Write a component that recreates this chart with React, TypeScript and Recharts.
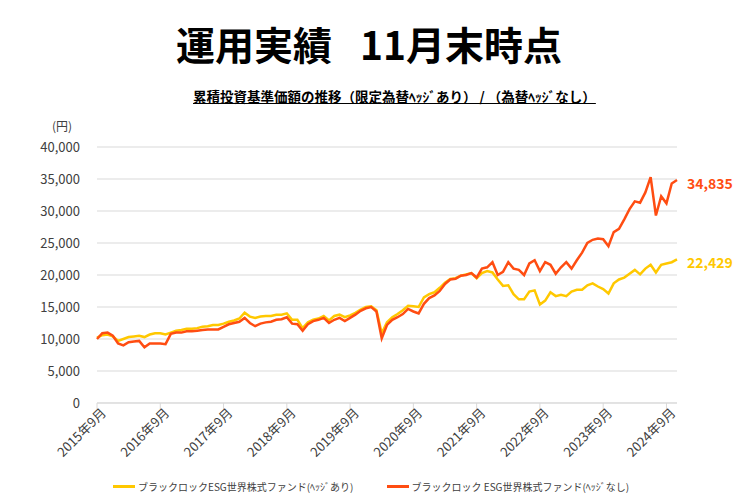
import { LineChart, Line, XAxis, YAxis, CartesianGrid } from "recharts";

// 2015年9月 .. 2024年11月, monthly
const months: string[] = [];
for (let y = 2015, m = 9; y < 2024 || (y === 2024 && m <= 11); m++) {
  if (m > 12) {
    m = 1;
    y++;
  }
  months.push(`${y}年${m}月`);
}

const tickLabels = [
  "2015年9月", "2016年9月", "2017年9月", "2018年9月", "2019年9月",
  "2020年9月", "2021年9月", "2022年9月", "2023年9月", "2024年9月",
];

const yTicks = [0, 5000, 10000, 15000, 20000, 25000, 30000, 35000, 40000];

// ヘッジあり
const hedged = [
  10200, 10600, 10700, 10400, 9700, 10000, 10300, 10400, 10500, 10300, 10700, 10900,
  10900, 10700, 11000, 11300, 11400, 11600, 11600, 11700, 11900, 12000, 12200, 12200,
  12400, 12700, 12900, 13200, 14100, 13500, 13300, 13500, 13600, 13600, 13800, 13800,
  14000, 13000, 13000, 11700, 12600, 13000, 13200, 13600, 12900, 13600, 13800, 13400,
  13700, 14100, 14600, 15000, 15100, 14500, 10900, 12600, 13400, 13900, 14500, 15200,
  15100, 15000, 16500, 17000, 17300, 18000, 18800, 19400, 19500, 19900, 20100, 20300,
  19500, 20300, 20600, 20400, 19300, 18300, 18400, 17000, 16200, 16200, 17400, 17600,
  15400, 16000, 17300, 16700, 16900, 16700, 17400, 17700, 17700, 18400, 18700, 18200,
  17800, 17100, 18700, 19300, 19600, 20200, 20800, 20100, 21000, 21600, 20400, 21600,
  21800, 22000, 22429,
];

// ヘッジなし
const unhedged = [
  10000, 10900, 11000, 10500, 9300, 9000, 9500, 9600, 9700, 8700, 9300, 9300,
  9300, 9200, 10800, 11000, 11000, 11200, 11200, 11300, 11400, 11500, 11500, 11500,
  11900, 12300, 12500, 12700, 13300, 12500, 12000, 12400, 12600, 12700, 13000, 13100,
  13400, 12400, 12300, 11300, 12300, 12800, 13000, 13300, 12500, 13000, 13300, 12800,
  13300, 13800, 14400, 14800, 15000, 14300, 10100, 12200, 13000, 13400, 13900, 14700,
  14300, 14000, 15500, 16400, 16800, 17500, 18600, 19300, 19400, 19900, 20000, 20300,
  19600, 21000, 21200, 22000, 20000, 20500, 22000, 21000, 20800, 20000, 21800, 22300,
  20600, 22000, 21600, 20200, 21200, 22000, 21000, 22300, 23500, 25000, 25500, 25700,
  25600, 24500, 26700, 27200, 28700, 30300, 31500, 31300, 32900, 35300, 29300, 32300,
  31200, 34300, 34835,
];

const data = months.map((month, i) => ({
  month,
  hedged: hedged[i],
  unhedged: unhedged[i],
}));

const YELLOW = "#FFC800";
const ORANGE = "#FF4D12";
const FONT = "'Noto Sans CJK JP', 'Noto Sans', sans-serif";

const XTick = ({ x, y, payload }: any) => (
  <g transform={`translate(${x},${y})`}>
    <text
      x={5}
      y={9}
      textAnchor="end"
      transform="rotate(-45)"
      fontSize={13}
      fill="#404040"
      fontFamily={FONT}
    >
      {payload.value}
    </text>
  </g>
);

const endLabel = (color: string) => (props: any) => {
  const { x, y, index, value } = props;
  if (index !== data.length - 1) return null;
  return (
    <text
      x={x + 10}
      y={y}
      dy={9}
      fill={color}
      fontSize={14}
      fontWeight={700}
      fontFamily={FONT}
    >
      {Number(value).toLocaleString("en-US")}
    </text>
  );
};

const LegendItem = ({ color, text }: { color: string; text: string }) => (
  <div style={{ display: "flex", alignItems: "center" }}>
    <div style={{ width: 22, height: 3, background: color, marginRight: 3 }} />
    <span>{text}</span>
  </div>
);

export default function App() {
  return (
    <div
      style={{
        position: "absolute",
        left: 0,
        top: 0,
        width: 738,
        height: 497,
        background: "#fff",
        fontFamily: FONT,
      }}
    >
      <div
        style={{
          position: "absolute",
          top: 16,
          left: 0,
          width: 738,
          textAlign: "center",
          fontSize: 39,
          fontWeight: 700,
          color: "#000",
          lineHeight: "54px",
        }}
      >
        運用実績<span style={{ marginLeft: 28 }}>11月末時点</span>
      </div>
      <div
        style={{
          position: "absolute",
          top: 86,
          left: 193,
          fontSize: 13.5,
          fontWeight: 700,
          color: "#000",
          textDecoration: "underline",
          whiteSpace: "pre",
        }}
      >
        累積投資基準価額の推移（限定為替ﾍｯｼﾞあり） / （為替ﾍｯｼﾞなし）
      </div>
      <div
        style={{
          position: "absolute",
          top: 117,
          left: 52,
          fontSize: 12,
          color: "#404040",
        }}
      >
        (円)
      </div>
      <LineChart
        width={738}
        height={497}
        data={data}
        margin={{ top: 147, right: 61, bottom: 0, left: 37 }}
      >
        <CartesianGrid vertical={false} stroke="#d9d9d9" />
        <XAxis
          dataKey="month"
          type="category"
          ticks={tickLabels}
          interval={0}
          height={94}
          stroke="#d9d9d9"
          tickLine={{ stroke: "#d9d9d9" }}
          tick={<XTick />}
        />
        <YAxis
          width={60}
          domain={[0, 40000]}
          ticks={yTicks}
          axisLine={false}
          tickLine={false}
          tickMargin={11}
          tickFormatter={(v: number) => v.toLocaleString("en-US")}
          tick={{ fontSize: 13, fill: "#404040", fontFamily: FONT }}
        />
        <Line
          dataKey="hedged"
          stroke={YELLOW}
          strokeWidth={2.5}
          dot={false}
          isAnimationActive={false}
          label={endLabel(YELLOW)}
        />
        <Line
          dataKey="unhedged"
          stroke={ORANGE}
          strokeWidth={2.5}
          dot={false}
          isAnimationActive={false}
          label={endLabel(ORANGE)}
        />
      </LineChart>
      <div
        style={{
          position: "absolute",
          top: 479,
          left: 113,
          display: "flex",
          gap: 33,
          fontSize: 10,
          color: "#404040",
          whiteSpace: "pre",
        }}
      >
        <LegendItem color={YELLOW} text="ブラックロックESG世界株式ファンド(ﾍｯｼﾞあり)" />
        <LegendItem color={ORANGE} text="ブラックロック ESG世界株式ファンド(ﾍｯｼﾞなし)" />
      </div>
    </div>
  );
}
